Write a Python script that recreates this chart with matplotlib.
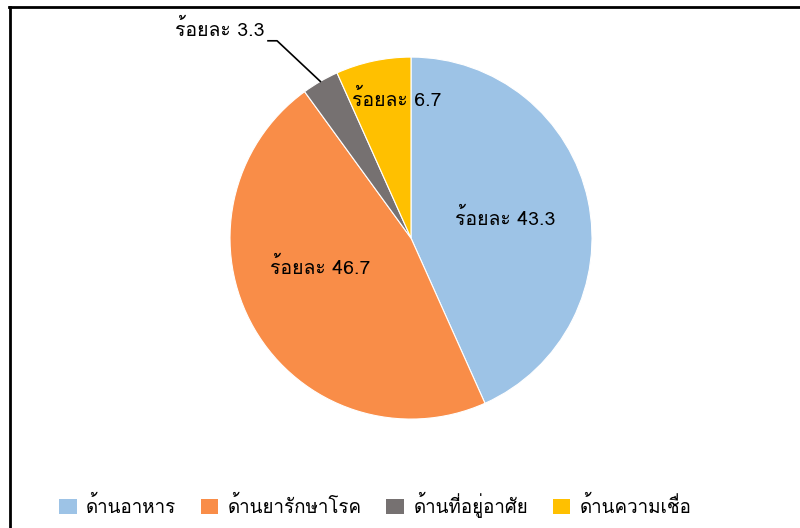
import numpy as np
import matplotlib
matplotlib.use('Agg')
import matplotlib.pyplot as plt
from matplotlib import font_manager
from matplotlib.ft2font import FT2Font
from matplotlib.lines import Line2D
from matplotlib.patches import Patch

# find a font that has Thai glyphs
thai_font = None
for f in font_manager.fontManager.ttflist:
    try:
        if 0x0E23 in FT2Font(f.fname).get_charmap():
            thai_font = f.name
            break
    except Exception:
        pass
fams = [thai_font, 'DejaVu Sans'] if thai_font else ['DejaVu Sans']
plt.rcParams['font.family'] = fams

categories = ['ด้านอาหาร', 'ด้านยารักษาโรค', 'ด้านที่อยู่อาศัย', 'ด้านความเชื่อ']
values = [43.3, 46.7, 3.3, 6.7]
colors = ['#9DC3E6', '#F98D48', '#767171', '#FFC000']

fig = plt.figure(figsize=(8, 5.28), dpi=100)
ax = fig.add_axes([0.2875, 0.2063, 0.4525, 0.6856])

wedges, _ = ax.pie(values, colors=colors, startangle=90, counterclock=False,
                   wedgeprops=dict(edgecolor='white', linewidth=0.8))
ax.set_xlim(-1, 1)
ax.set_ylim(-1, 1)
ax.set_aspect('equal')

labels = ['ร้อยละ %.1f' % v for v in values]
# label positions (radius, angle in degrees)
label_pos = [(0.53, 12), (0.53, 198), None, (0.77, 96)]
for lab, pos in zip(labels, label_pos):
    if pos is None:
        continue
    r, a = pos
    ax.text(r * np.cos(np.radians(a)), r * np.sin(np.radians(a)), lab,
            ha='center', va='center', fontsize=14, color='black')

# outside label for the small slice
w = wedges[2]
mid = np.radians((w.theta1 + w.theta2) / 2)
px, py = np.cos(mid), np.sin(mid)
ax.plot([-0.79, -0.74, px], [1.09, 1.09, py], color='black', lw=1.2, clip_on=False)
ax.text(-0.81, 1.15, labels[2], ha='right', va='center', fontsize=14, color='black')

handles = [Patch(facecolor=c, edgecolor='none') for c in colors]
fig.legend(handles, categories, loc='center', bbox_to_anchor=(0.469, 0.044), ncol=4,
           frameon=False, fontsize=13.5, handlelength=0.95, handleheight=0.85,
           handletextpad=0.5, columnspacing=1.3)

fig.add_artist(Line2D([0.011, 1], [0.986, 0.986], transform=fig.transFigure, color='black', lw=2))
fig.add_artist(Line2D([0.012, 0.012], [0, 0.986], transform=fig.transFigure, color='black', lw=2))

fig.savefig('out.png', dpi=100)
